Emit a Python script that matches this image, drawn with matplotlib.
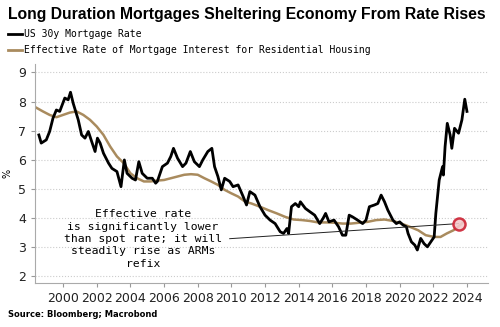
import numpy as np
import matplotlib.pyplot as plt

# US 30y mortgage rate
spot_years = [1998.56, 1998.7, 1999.0, 1999.2, 1999.4, 1999.6, 1999.8, 2000.1, 2000.3, 2000.44,
              2000.6, 2000.9, 2001.1, 2001.3, 2001.5, 2001.7, 2001.9, 2002.04, 2002.2, 2002.4,
              2002.7, 2002.9, 2003.2, 2003.44, 2003.64, 2003.8, 2004.1, 2004.3, 2004.5, 2004.7,
              2005.0, 2005.3, 2005.5, 2005.6, 2005.9, 2006.2, 2006.4, 2006.56, 2006.8, 2007.1,
              2007.3, 2007.56, 2007.8, 2008.1, 2008.3, 2008.6, 2008.84, 2009.0, 2009.2, 2009.4,
              2009.6, 2009.9, 2010.1, 2010.4, 2010.7, 2010.9, 2011.1, 2011.4, 2011.7, 2012.0,
              2012.3, 2012.6, 2012.9, 2013.1, 2013.3, 2013.4, 2013.57, 2013.8, 2014.0, 2014.1,
              2014.4, 2014.66, 2014.95, 2015.25, 2015.45, 2015.6, 2015.8, 2016.1, 2016.37, 2016.6,
              2016.8, 2017.0, 2017.2, 2017.5, 2017.8, 2018.0, 2018.2, 2018.5, 2018.7, 2018.9,
              2019.1, 2019.3, 2019.6, 2019.8, 2020.0, 2020.2, 2020.4, 2020.5, 2020.7, 2020.9,
              2021.05, 2021.25, 2021.45, 2021.65, 2021.85, 2022.05, 2022.15, 2022.35, 2022.55, 2022.6,
              2022.7, 2022.83, 2023.0, 2023.1, 2023.26, 2023.5, 2023.7, 2023.87, 2024.0]
spot_rate = [6.85, 6.57, 6.68, 6.97, 7.43, 7.71, 7.66, 8.12, 8.06, 8.32,
             7.94, 7.37, 6.85, 6.74, 6.97, 6.62, 6.28, 6.74, 6.57, 6.22,
             5.88, 5.70, 5.59, 5.07, 5.99, 5.53, 5.36, 5.30, 5.93, 5.53,
             5.36, 5.36, 5.19, 5.25, 5.76, 5.88, 6.11, 6.39, 6.05, 5.76,
             5.88, 6.28, 5.93, 5.76, 5.99, 6.28, 6.39, 5.76, 5.42, 4.96,
             5.36, 5.25, 5.07, 5.13, 4.73, 4.44, 4.90, 4.78, 4.38, 4.09,
             3.92, 3.80, 3.52, 3.46, 3.63, 3.46, 4.38, 4.49, 4.38, 4.55,
             4.32, 4.21, 4.09, 3.80, 3.98, 4.15, 3.86, 3.92, 3.69, 3.40,
             3.40, 4.09, 4.03, 3.92, 3.80, 3.92, 4.38, 4.44, 4.49, 4.78,
             4.55, 4.26, 3.92, 3.80, 3.86, 3.75, 3.69, 3.46, 3.17, 3.06,
             2.89, 3.29, 3.11, 3.00, 3.17, 3.34, 4.15, 5.30, 5.76, 5.47,
             6.45, 7.25, 6.85, 6.39, 7.08, 6.91, 7.37, 8.08, 7.66]

# effective rate of mortgage interest for residential housing
eff_years = [1998.4, 1998.8, 1999.2, 1999.6, 2000.0, 2000.4, 2000.8, 2001.2, 2001.6, 2002.0,
             2002.4, 2002.8, 2003.2, 2003.6, 2004.0, 2004.4, 2004.8, 2005.2, 2005.6, 2006.0,
             2006.4, 2006.8, 2007.2, 2007.6, 2008.0, 2008.4, 2008.8, 2009.2, 2009.6, 2010.0,
             2010.4, 2010.8, 2011.2, 2011.7, 2012.2, 2012.7, 2013.2, 2013.7, 2014.2, 2014.66,
             2015.15, 2015.64, 2016.1, 2016.6, 2017.1, 2017.6, 2018.1, 2018.6, 2019.1, 2019.6,
             2020.1, 2020.6, 2021.1, 2021.55, 2022.05, 2022.43, 2022.8, 2023.2, 2023.6, 2023.8]
eff_rate = [7.79, 7.66, 7.54, 7.46, 7.54, 7.62, 7.66, 7.54, 7.37, 7.14,
            6.85, 6.45, 6.11, 5.88, 5.53, 5.36, 5.25, 5.25, 5.28, 5.30,
            5.36, 5.42, 5.48, 5.50, 5.48, 5.36, 5.25, 5.13, 4.96, 4.84,
            4.73, 4.56, 4.49, 4.38, 4.26, 4.15, 4.03, 3.94, 3.92, 3.89,
            3.84, 3.84, 3.83, 3.80, 3.80, 3.83, 3.86, 3.92, 3.94, 3.89,
            3.80, 3.69, 3.57, 3.40, 3.34, 3.34, 3.46, 3.57, 3.75, 3.86]

xticks = list(range(2000, 2025, 2))
yticks = list(range(2, 10))

note_text = "Effective rate\nis significantly lower\nthan spot rate; it will\nsteadily rise as ARMs\nrefix"
note_line_x = [2009.9, 2023.5]
note_line_y = [3.28, 3.80]
circle_x, circle_y = 2023.55, 3.78

fig = plt.figure(figsize=(5, 3.27), dpi=100)
ax = fig.add_axes([0.07, 0.135, 0.906, 0.67])

ax.plot(eff_years, eff_rate, color="#a98b5e", lw=1.8)
ax.plot(spot_years, spot_rate, color="black", lw=2)

ax.plot(note_line_x, note_line_y, color="#222222", lw=0.7)
ax.scatter([circle_x], [circle_y], s=75, facecolor="#f4c9cc", edgecolor="#cc2233",
           linewidth=1.8, alpha=0.9, zorder=5)
ax.text(2004.75, 3.27, note_text, ha="center", va="center", fontsize=8.2,
        family="DejaVu Sans Mono", linespacing=1.3)

ax.set_xlim(1998.33, 2025.25)
ax.set_ylim(1.76, 9.3)
ax.set_xticks(xticks)
ax.set_yticks(yticks)
ax.tick_params(axis="both", colors="#999999", labelcolor="#222222", labelsize=9, length=3)
ax.grid(axis="y", color="#cccccc", ls=":", lw=0.8)
ax.set_axisbelow(True)
for s in ["top", "right"]:
    ax.spines[s].set_visible(False)
for s in ["left", "bottom"]:
    ax.spines[s].set_color("#aaaaaa")
ax.set_ylabel("%", fontsize=7, labelpad=4)

fig.text(0.016, 0.955, "Long Duration Mortgages Sheltering Economy From Rate Rises",
         fontsize=11.3, fontweight="bold", family="Liberation Sans", va="center")
fig.lines.append(plt.Line2D([0.016, 0.044], [0.896, 0.896], color="black", lw=2, transform=fig.transFigure))
fig.lines.append(plt.Line2D([0.016, 0.044], [0.847, 0.847], color="#a98b5e", lw=2, transform=fig.transFigure))
fig.text(0.048, 0.896, "US 30y Mortgage Rate", fontsize=7, family="DejaVu Sans Mono", va="center")
fig.text(0.048, 0.847, "Effective Rate of Mortgage Interest for Residential Housing",
         fontsize=7, family="DejaVu Sans Mono", va="center")
fig.text(0.016, 0.037, "Source: Bloomberg; Macrobond", fontsize=6, fontweight="bold", va="center")

fig.savefig("out.png", dpi=100)
